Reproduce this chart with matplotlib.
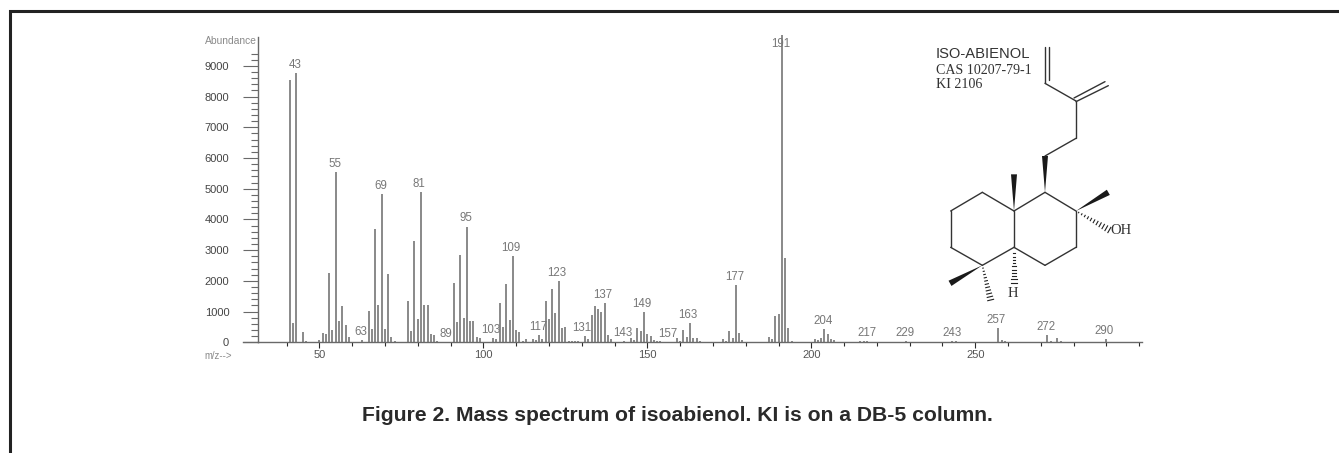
import matplotlib
matplotlib.use("Agg")
import matplotlib.pyplot as plt
from matplotlib.patches import Polygon
import numpy as np

# spectrum
mz = [41, 42, 43, 45, 46, 50, 51, 52, 53, 54, 55, 56, 57, 58, 59, 63, 65, 66, 67, 68, 69, 70, 71, 72, 73,
      77, 78, 79, 80, 81, 82, 83, 84, 85, 86, 91, 92, 93, 94, 95, 96, 97, 98, 99,
      103, 104, 105, 106, 107, 108, 109, 110, 111, 112, 113, 115, 116, 117, 118, 119, 120, 121, 122, 123, 124, 125,
      126, 127, 128, 129, 130, 131, 132, 133, 134, 135, 136, 137, 138, 139, 140, 143, 145, 146, 147, 148, 149, 150,
      151, 152, 153, 154, 159, 160, 161, 162, 163, 164, 165, 166, 173, 174, 175, 176, 177, 178, 179,
      187, 188, 189, 190, 191, 192, 193, 194, 201, 202, 203, 204, 205, 206, 207, 215, 216, 217, 219,
      229, 230, 243, 244, 245, 257, 258, 259, 272, 273, 275, 276, 290, 291]
abundance = [8530, 640, 8760, 320, 50, 70, 300, 270, 2250, 390, 5530, 690, 1180, 570, 170, 70, 1020, 430, 3680, 1210, 4840, 430, 2210, 170, 40,
             1360, 360, 3310, 770, 4900, 1200, 1200, 270, 230, 40, 1930, 670, 2840, 800, 3770, 690, 690, 170, 140,
             140, 110, 1290, 500, 1910, 730, 2810, 410, 350, 40, 100, 120, 60, 250, 120, 1360, 760, 1730, 940, 1980, 450, 500,
             50, 30, 50, 50, 20, 200, 100, 880, 1190, 1070, 980, 1280, 250, 100, 20, 30, 150, 90, 450, 380, 1000, 280,
             200, 60, 50, 30, 130, 40, 410, 160, 620, 150, 150, 30, 120, 40, 380, 130, 1850, 310, 90,
             180, 100, 850, 910, 10000, 2760, 450, 30, 110, 80, 130, 420, 270, 120, 80, 50, 50, 50, 20,
             40, 20, 40, 30, 20, 460, 80, 50, 240, 50, 140, 30, 110, 20]

labels = [43, 55, 63, 69, 81, 89, 95, 103, 109, 117, 123, 131, 137, 143, 149, 157, 163, 177, 191, 204, 217, 229, 243, 257, 272, 290]
label_dx = [-1, -1, -1, -1, -2, -1, -1, -2, -2, -1, -2, -3, -2, -2, -2, -2, -2, -1, -1, -1, 0, -1, 0, -2, -1, -2]

x_major = [50, 100, 150, 200, 250]
y_major = [0, 1000, 2000, 3000, 4000, 5000, 6000, 7000, 8000, 9000]

W, H = 1339, 453
GREY = "#696969"
INK = "#2b2b2b"

plt.rcParams['font.family'] = ['Liberation Sans', 'DejaVu Sans']

fig = plt.figure(figsize=(W/100, H/100), dpi=100)

# whole-figure overlay in pixels, for the frame, structure and caption
bg = fig.add_axes([0, 0, 1, 1])
bg.set_xlim(0, W)
bg.set_ylim(H, 0)
bg.axis('off')
bg.plot([9.5, 9.5, W], [H, 10.5, 10.5], color="#222222", lw=2.2, solid_joinstyle='miter')
bg.text(362, 421, "Figure 2. Mass spectrum of isoabienol. KI is on a DB-5 column.",
        ha='left', va='baseline', fontsize=15.2, fontweight='bold', color="#2a2a2a")

# axes placed so that m/z 50 -> 319.3 px, 3.28 px per unit, 0 -> 342.3 px, 0.03071 px per count
x0, xs = 319.3, 3.28
y0, ys = 342.3, 0.03071
left, right, top = 257.7, 1141.7, 37.0
ax = fig.add_axes([left/W, 1-y0/H, (right-left)/W, (y0-top)/H])
ax.set_xlim(50+(left-x0)/xs, 50+(right-x0)/xs)
ax.set_ylim(0, (y0-top)/ys)
ax.patch.set_alpha(0)
for s in ['top', 'right']:
    ax.spines[s].set_visible(False)
for s in ['left', 'bottom']:
    ax.spines[s].set_color(GREY)
    ax.spines[s].set_linewidth(1.0)

ax.vlines(mz, 0, abundance, color=GREY, lw=1.1, clip_on=False)

ax.set_xticks(np.arange(40, 301, 10), minor=True)
ax.set_xticks(x_major)
ax.tick_params(axis='x', which='minor', length=2.6, width=0.8, color=INK, direction='out')
ax.tick_params(axis='x', which='major', length=4, width=0.8, color=INK, labelsize=8, labelcolor="#555555", pad=1.5)
ax.set_yticks(np.arange(0, 9401, 200), minor=True)
ax.set_yticks(y_major)
ax.tick_params(axis='y', which='minor', length=5, width=0.8, color=GREY)
ax.tick_params(axis='y', which='major', length=10.5, width=0.8, color=GREY, labelsize=8, labelcolor="#444444", pad=10)

# horizontal axis runs a little past the y axis on the left
bg.plot([243, 258], [y0, y0], color=GREY, lw=1.0)

apex = dict(zip(mz, abundance))
for m, dx in zip(labels, label_dx):
    h = apex.get(m, 0)
    dy = -11 if m == 191 else 1.5  # the base peak runs through its own label
    ax.annotate(str(m), (m, h), xytext=(dx*0.72, dy), textcoords='offset points', ha='center', va='bottom',
                fontsize=8.3, color="#777777", annotation_clip=False)

bg.text(257, 41, "Abundance", ha='right', va='center', fontsize=7.4, color="#8a8a8a")
bg.text(204.5, 356, "m/z-->", ha='left', va='center', fontsize=6.9, color="#8a8a8a")

def px(p):
    return (900 + p[0]/3, 30 + p[1]/3)

bonds = [((435, 52), (435, 160)), ((446, 52), (446, 150)), ((435, 160), (528, 213)),
         ((528, 215), (625, 167)), ((522, 204), (615, 155)), ((528, 213), (528, 325)),
         ((528, 325), (435, 378)), ((342, 543), (435, 487)), ((435, 487), (528, 543)),
         ((528, 543), (528, 652)), ((528, 652), (435, 706)), ((435, 706), (342, 652)),
         ((342, 652), (342, 543)), ((342, 543), (247, 487)), ((247, 487), (152, 543)),
         ((152, 543), (152, 652)), ((152, 652), (247, 706)), ((247, 706), (342, 652))]
for a, b in bonds:
    pa, pb = px(a), px(b)
    bg.plot([pa[0], pb[0]], [pa[1], pb[1]], color="#333333", lw=1.0, solid_capstyle='round')

def wedge(a, b, w=9):
    a, b = np.array(px(a)), np.array(px(b))
    d = b - a
    n = np.array([-d[1], d[0]]) / np.hypot(*d)
    bg.add_patch(Polygon([a, b + n*w/3, b - n*w/3], closed=True, fc="#1a1a1a", ec='none'))

def hashed(a, b, w=9, n=11):
    a, b = np.array(px(a)), np.array(px(b))
    d = b - a
    nrm = np.array([-d[1], d[0]]) / np.hypot(*d)
    for t in np.linspace(0.08, 1, n):
        c = a + d*t
        e = nrm*w/3*t
        bg.plot([c[0]-e[0], c[0]+e[0]], [c[1]-e[1], c[1]+e[1]], color="#222222", lw=0.8)

wedge((435, 487), (435, 378))
wedge((342, 543), (342, 433))
wedge((528, 543), (625, 487))
wedge((247, 706), (150, 760))
hashed((528, 543), (628, 600))
hashed((247, 706), (272, 810))
hashed((342, 652), (342, 758))

serif = ['Liberation Serif', 'DejaVu Serif']
oh = px((662, 603))
h_lab = px((340, 790))
bg.text(oh[0], oh[1], "OH", ha='center', va='center', family=serif, fontsize=10.5, color="#333333")
bg.text(h_lab[0], h_lab[1], "H", ha='center', va='center', family=serif, fontsize=10.5, color="#333333")
bg.text(936, 54, "ISO-ABIENOL", ha='left', va='center', fontsize=10.6, color="#333333")
bg.text(936, 70, "CAS 10207-79-1", ha='left', va='center', family=serif, fontsize=10.1, color="#333333")
bg.text(936, 84, "KI 2106", ha='left', va='center', family=serif, fontsize=10.1, color="#333333")

fig.savefig("out.png", dpi=100)
